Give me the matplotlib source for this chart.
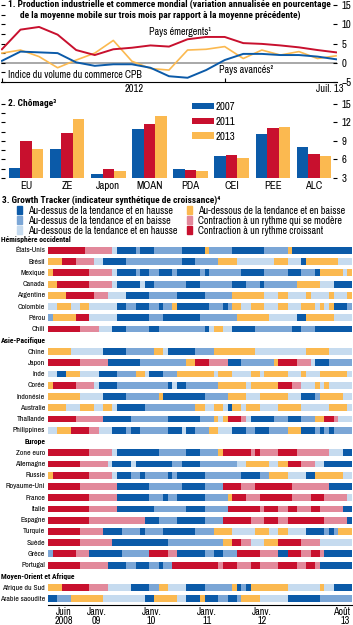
import matplotlib.pyplot as plt
import numpy as np
from matplotlib.patches import Patch
from matplotlib.ticker import MultipleLocator

plt.rcParams['font.family'] = ['Archivo Narrow', 'DejaVu Sans']
BOLD_FONT = ['Roboto Condensed', 'DejaVu Sans']

# ---- panel 1: industrial production & world trade (Jan 2012 .. Jul 2013)
p1_months = list(range(19))
emergents = [3.5, 8.6, 9.3, 7.3, 3.3, 2.0, 3.5, 3.9, 4.5, 4.2, 6.1, 6.7, 6.7, 5.1, 4.9, 4.5, 4.0, 3.3, 2.7]
cpb_trade = [2.5, 3.3, 1.6, -1.3, 0.7, 2.5, 5.8, 0.4, -1.5, -1.9, 3.3, 3.5, 4.2, 1.1, 3.3, 2.0, 2.9, 1.1, 1.8]
avances = [0.5, 2.9, 2.7, 2.5, 0.1, -0.8, -0.4, -0.4, -1.3, -3.5, -3.9, -1.9, 0.7, 2.3, 2.3, 2.0, 2.0, 1.6, 0.9]

# ---- panel 2: unemployment
regions = ["EU", "ZE", "Japon", "MOAN", "PDA", "CEI", "PEE", "ALC"]
chom_2007 = [4.6, 7.7, 3.7, 10.9, 4.5, 6.5, 10.1, 8.1]
chom_2011 = [9.0, 10.3, 4.5, 11.8, 4.3, 6.8, 11.1, 6.9]
chom_2013 = [7.7, 12.5, 4.1, 13.1, 4.2, 6.3, 11.2, 6.5]

# ---- panel 3: growth tracker, monthly states Mar 2008 .. Aug 2013 (run lengths)
state_codes = ["A", "B", "C", "D", "E", "F"]
state_names = ["Au-dessus de la tendance et en hausse",
               "Au-dessus de la tendance et en baisse",
               "Au-dessous de la tendance et en hausse",
               "Au-dessous de la tendance et en baisse",
               "Contraction à un rythme qui se modère",
               "Contraction à un rythme croissant"]
tracker_labels = [
    "Hémisphère occidental", "États-Unis", "Brésil", "Mexique", "Canada", "Argentine",
    "Colombie", "Pérou", "Chili",
    "Asie-Pacifique", "Chine", "Japon", "Inde", "Corée", "Indonésie", "Australie",
    "Thaïlande", "Philippines",
    "Europe", "Zone euro", "Allemagne", "Russie", "Royaume-Uni", "France", "Italie",
    "Espagne", "Turquie", "Suède", "Grèce", "Portugal",
    "Moyen-Orient et Afrique", "Afrique du Sud", "Arabie saoudite"]
tracker_runs = [
    "",
    "F8 E6 C1 A4 B1 A3 B6 A5 D1 B5 A7 B5 D1 A13",
    "D3 F3 E4 C2 A5 B12 A3 B5 D4 C8 D3 C3 A1 D7 C3",
    "D1 F8 E5 C1 A4 B1 A2 B2 A3 B1 A5 B1 A1 B7 A5 B5 A3 B3 A1 D5 C1 D1",
    "D2 F7 E5 C1 A5 C1 A2 B7 A3 B7 A3 B3 A1 B7 D5 C3 A4",
    "D4 F6 E3 C4 A5 B6 A6 B6 D7 C3 D2 C4 D1 C4 D1 C3 D1",
    "C2 D3 C2 D2 C6 A2 B2 A3 B2 A1 B2 D1 A7 B3 A1 B1 D2 C2 D3 C3 D2 C3 D3 C1 D1 C1 D1 A3 B1",
    "B1 D5 F3 C6 A7 B3 A8 B8 D7 C6 A2 D6 C4",
    "F7 E4 C3 A3 B5 A2 B10 A1 C1 D2 C2 A5 B8 A2 B3 A8",
    "",
    "D5 C7 A5 B6 D2 C1 A6 B4 D9 C11 D5 C5",
    "F7 E6 A7 B10 D2 F3 E4 A3 B7 D1 F4 E3 C1 A3 B5",
    "C2 A2 D3 C4 A4 B4 D2 C1 A3 B3 D8 C1 D3 C4 D2 C1 D5 C3 D1 C3 D6 C1",
    "D1 F5 E4 C1 A4 B11 A1 C1 A2 B7 D6 C1 D6 F3 E2 C3 D1 C1 D1 C5",
    "D7 C5 A5 B7 D1 A9 B5 D4 C3 D6 C3 A3 B1 D5 C2",
    "D4 C3 D3 C2 D2 C1 A6 B11 D2 C2 D2 C1 A1 D2 C1 D3 C4 D5 C6 D4 C1",
    "F6 E6 A6 B8 A7 B3 D1 C1 D1 F3 E1 C1 A5 B3 A3 B3 D2 F2 E1 C3",
    "C2 D3 F4 E2 C3 A3 B1 A2 B6 A3 C1 A2 B3 D2 C3 A3 B2 A3 B4 D3 A3 B1 A1 B1 A1 B4",
    "",
    "F9 E5 C1 A9 B6 A3 B4 D1 F6 E1 F1 E4 F4 E7 C3 A2",
    "F7 E6 C1 A4 C1 A8 B2 A4 B8 C2 D5 C2 D2 F3 E3 C2 A6",
    "D1 F8 E5 C1 A3 B2 A1 B5 A1 B1 A6 B8 A4 B2 D4 C4 A2 D6 C2",
    "F7 E8 A7 B7 A5 B4 F4 E3 F8 E8 A5",
    "F9 E6 A7 B3 A1 B2 A6 B5 D1 F3 E3 F7 E4 F3 E5 C1",
    "F9 E6 A8 B7 A4 B5 F7 E1 F3 E2 F2 E3 F2 E5 A2",
    "F9 E12 A3 B4 A6 B4 F6 E3 F3 E2 F8 E5 A1",
    "F7 E5 A4 B4 A1 B4 A7 B4 D4 C5 D3 C2 D2 C4 A4 B1 A1 B1 D3",
    "F7 E7 A12 B12 D2 F2 E2 C3 D3 F5 E4 C7",
    "B1 F5 E3 A7 B6 F4 E2 A6 B2 A2 B3 F5 E4 A2 F3 E2 F2 E1 A6",
    "F7 E6 A4 B2 A3 B2 A1 B2 F10 E1 F3 E3 F2 E4 F4 E2 F2 E1 A7",
    "",
    "D3 F6 E4 C5 A4 B2 D2 C4 A4 B6 D1 A1 B1 A1 D8 C7 D1 C2 A4",
    "A2 B3 D7 C9 A2 D5 C2 A3 D1 A3 B2 A2 B1 D4 C6 A7 B7"]
n_months = 66
tick_months = [3, 10, 22, 34, 46, 65]
tick_names = ["Juin\n2008", "Janv.\n09", "Janv.\n10", "Janv.\n11", "Janv.\n12", "Août\n13"]

BLUE = "#0b5aa8"
RED = "#c8102e"
ORANGE = "#fbb950"
state_colors = dict(zip(state_codes, [BLUE, "#7ba6d6", "#c6dbef", ORANGE, "#e2899b", RED]))

W, H = 353, 625
fig = plt.figure(figsize=(W / 100, H / 100), dpi=100)


def px_axes(x0, y0, x1, y1):
    return fig.add_axes([x0 / W, 1 - y1 / H, (x1 - x0) / W, (y1 - y0) / H])


# ---------------- panel 1
ax1 = px_axes(1, 5, 337, 82)
ax1.axhline(0, color="#a8a8a8", lw=1.4, zorder=1)
ax1.plot(p1_months, emergents, color=RED, lw=1.4, zorder=3)
ax1.plot(p1_months, cpb_trade, color=ORANGE, lw=1.2, zorder=2)
ax1.plot(p1_months, avances, color=BLUE, lw=1.4, zorder=3)
ax1.set_xlim(-0.05, 18.05)
ax1.set_ylim(-5, 15)
for s in ["top", "left", "right"]:
    ax1.spines[s].set_visible(False)
ax1.spines["bottom"].set_linewidth(0.8)
ax1.yaxis.set_major_locator(MultipleLocator(5))
ax1.yaxis.set_minor_locator(MultipleLocator(2.5))
ax1.tick_params(axis="y", which="major", direction="in", length=3, left=True, right=True,
                labelleft=False, labelright=True, labelsize=7.8, pad=3, width=0.8)
ax1.tick_params(axis="y", which="minor", direction="in", length=3, left=True, right=False, width=0.8)
ax1.set_xticks([0, 12])
ax1.tick_params(axis="x", direction="in", length=3, labelbottom=False, width=0.8)
ax1.text(7.1, -5.6, "2012", ha="center", va="top", fontsize=7.5)
ax1.text(18.4, -5.6, "Juil. 13", ha="right", va="top", fontsize=7.5)
ax1.text(0.33, 15.1, "1. Production industrielle et commerce mondial (variation annualisée en pourcentage",
         ha="left", va="center", fontsize=6.75, fontweight="bold", family=BOLD_FONT)
ax1.text(1.0, 12.3, "de la moyenne mobile sur trois mois par rapport à la moyenne précédente)",
         ha="left", va="center", fontsize=6.75, fontweight="bold", family=BOLD_FONT)
ax1.text(7.9, 7.9, "Pays émergents¹", ha="left", va="center", fontsize=7.2)
ax1.text(11.7, -1.9, "Pays avancés²", ha="left", va="center", fontsize=7.2)
ax1.text(0.35, -3.2, "Indice du volume du commerce CPB", ha="left", va="center", fontsize=7.2)

# ---------------- panel 2
ax2 = px_axes(1, 104, 337, 178)
x = np.arange(len(regions))
bw = 0.28
ax2.bar(x - bw, np.array(chom_2007) - 3, bw, bottom=3, color=BLUE, label="2007")
ax2.bar(x, np.array(chom_2011) - 3, bw, bottom=3, color=RED, label="2011")
ax2.bar(x + bw, np.array(chom_2013) - 3, bw, bottom=3, color=ORANGE, label="2013")
ax2.set_xlim(-0.61, 7.56)
ax2.set_ylim(3, 15)
for s in ["top", "left", "right", "bottom"]:
    ax2.spines[s].set_visible(False)
ax2.yaxis.set_major_locator(MultipleLocator(3))
ax2.yaxis.set_minor_locator(MultipleLocator(1.5))
ax2.tick_params(axis="y", which="major", direction="in", length=3, left=True, right=True,
                labelleft=False, labelright=True, labelsize=7.8, pad=3, width=0.8)
ax2.tick_params(axis="y", which="minor", direction="in", length=3, left=True, right=False, width=0.8)
ax2.set_xticks(x)
ax2.set_xticklabels(regions, fontsize=7.8)
ax2.tick_params(axis="x", length=0, pad=2)
ax2.text(-0.45, 15.1, "2. Chômage³", ha="left", va="center", fontsize=6.75, fontweight="bold",
         family=BOLD_FONT)
ax2.legend(loc="upper left", bbox_to_anchor=(0.568, 1.03), frameon=False, fontsize=7.8,
           handlelength=2.0, handleheight=0.55, labelspacing=0.45, handletextpad=0.2,
           borderaxespad=0, borderpad=0)

# ---------------- panel 3
ax3 = px_axes(48, 233.4, 352, 604.6)
for i, (label, runs) in enumerate(zip(tracker_labels, tracker_runs)):
    if not runs:
        if label == "Europe":
            ax3.text(-0.6, i, label, ha="right", va="center", fontsize=5.5, fontweight="bold",
                     family=BOLD_FONT)
        else:
            ax3.text(-10.3, i, label, ha="left", va="center", fontsize=5.5, fontweight="bold",
                     family=BOLD_FONT)
        continue
    ax3.text(-0.6, i, label, ha="right", va="center", fontsize=5.6)
    start = 0
    for tok in runs.split():
        code, n = tok[0], int(tok[1:])
        ax3.barh(i, n, left=start, height=0.62, color=state_colors[code], linewidth=0)
        start += n
ax3.set_xlim(0, n_months)
ax3.set_ylim(len(tracker_labels) - 0.5, -0.5)
ax3.set_yticks([])
for s in ["top", "left", "right"]:
    ax3.spines[s].set_visible(False)
ax3.spines["bottom"].set_linewidth(0.8)
ax3.set_xticks([m + 0.5 for m in tick_months])
ax3.set_xticklabels(tick_names, fontsize=7.3, linespacing=0.95)
ax3.tick_params(axis="x", length=0, pad=1.5)
ax3.get_xticklabels()[-1].set_ha("right")
ax3.get_xticklabels()[-1].set_x(n_months)

fig.text(2 / W, 1 - 200 / H, "3. Growth Tracker (indicateur synthétique de croissance)⁴",
         ha="left", va="center", fontsize=6.75, fontweight="bold", family=BOLD_FONT)
handles = [Patch(color=state_colors[c], label=n) for c, n in zip(state_codes, state_names)]
fig.legend(handles=handles, loc="upper left", bbox_to_anchor=(17 / W, 1 - 205.5 / H), ncol=2,
           frameon=False, fontsize=7.3, handlelength=0.45, handleheight=0.8, handletextpad=0.6,
           labelspacing=0.0, columnspacing=1.0, borderpad=0, borderaxespad=0)

fig.savefig("out.png", dpi=100)
